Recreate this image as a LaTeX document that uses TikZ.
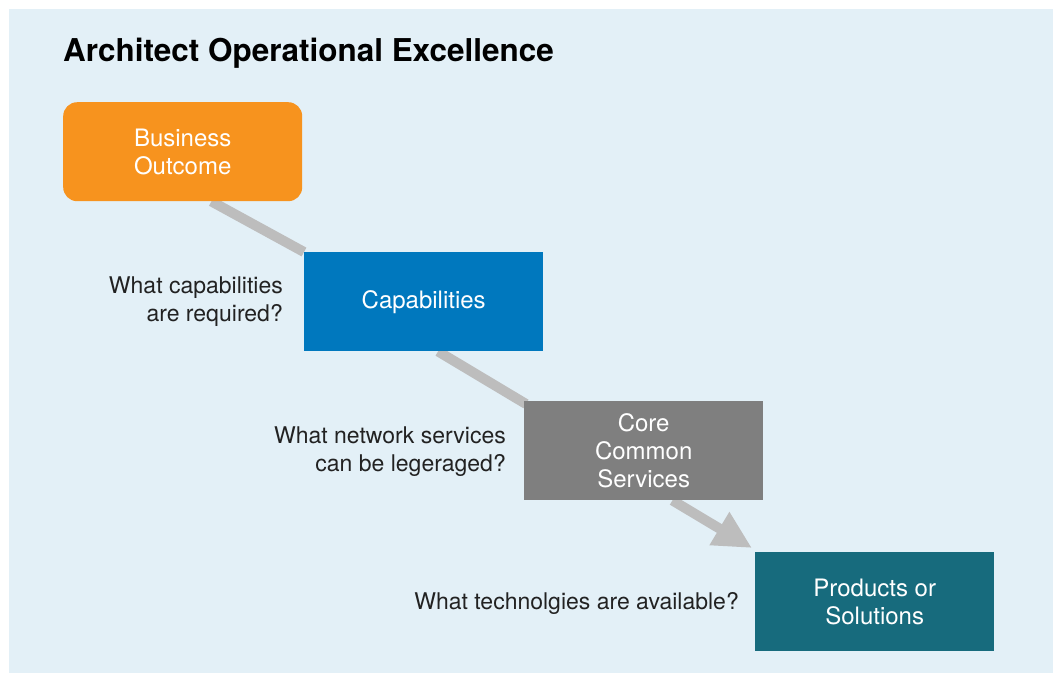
\documentclass[tikz,border=0pt]{standalone}
\usepackage{fontspec}
\setmainfont{TeX Gyre Heros}
\usetikzlibrary{arrows.meta,calc}
\definecolor{panelbg}{HTML}{E3F0F7}
\definecolor{orangebox}{HTML}{F7931E}
\definecolor{bluebox}{HTML}{0078BE}
\definecolor{graybox}{HTML}{7F7F7F}
\definecolor{tealbox}{HTML}{176B7D}
\definecolor{linkgray}{HTML}{BDBDBD}
\definecolor{txt}{HTML}{222222}
\pgfdeclarelayer{back}
\pgfdeclarelayer{background}
\pgfsetlayers{back,background,main}
\tikzset{
  stagebox/.style={rectangle, inner sep=0pt, minimum width=239pt, minimum height=99pt,
    anchor=north west, text=white, align=center, font=\fontsize{24}{28}\selectfont},
  question/.style={anchor=east, align=right, text=txt, inner sep=0pt, font=\fontsize{23}{28}\selectfont},
  link/.style={draw=linkgray, line width=10pt},
}
\begin{document}
\begin{tikzpicture}[x=1pt,y=-1pt]
\useasboundingbox (0,0) rectangle (1053,673);
\begin{pgfonlayer}{back}
\fill[panelbg] (9,9) rectangle (1053,673);
\end{pgfonlayer}
\node[anchor=base west, inner sep=0pt, font=\fontsize{31.45}{34}\selectfont\bfseries, text=black] (title) at (63,61) {Architect Operational Excellence};
\node[stagebox, fill=orangebox, rounded corners=14pt] (bo) at (63,102) {Business\\Outcome};
\node[stagebox, fill=bluebox] (cap) at (304,252) {Capabilities};
\node[stagebox, fill=graybox] (ccs) at (524,401) {Core\\Common\\Services};
\node[stagebox, fill=tealbox] (ps) at (755,552) {Products or\\Solutions};
\node[question] (q1) at (283,302) {What capabilities\\are required?};
\node[question] (q2) at (506,452) {What network services\\can be legeraged?};
\node[question] (q3) at (739,603) {What technolgies are available?};
\coordinate (e3) at ($(ps.north west)+(-3,-4)$);
\begin{pgfonlayer}{background}
\draw[link] ($(bo.south west)!0.62!(bo.south east)$) -- (cap.north west);
\draw[link] ($(cap.south west)!0.56!(cap.south east)$) -- ($(ccs.north west)+(2,3)$);
\draw[link, -{Triangle[width=36pt,length=38pt]}] ($(ccs.south west)!0.62!(ccs.south east)$) -- (e3);
\end{pgfonlayer}
\end{tikzpicture}
\end{document}
